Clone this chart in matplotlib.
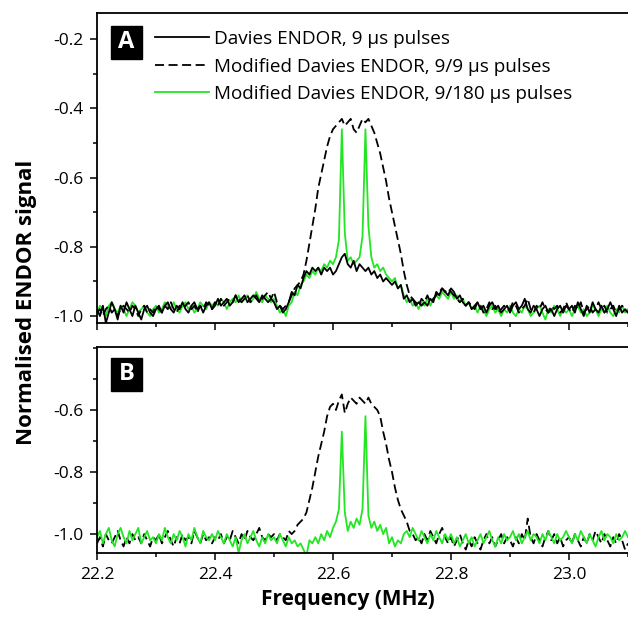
import numpy as np
import matplotlib
matplotlib.use('Agg')
import matplotlib.pyplot as plt
from matplotlib.patches import Rectangle
from matplotlib.ticker import MultipleLocator, FormatStrFormatter

plt.rcParams['font.family'] = ['Open Sans', 'DejaVu Sans']
plt.rcParams['axes.unicode_minus'] = False

# frequency axis (MHz), one point every 5 kHz
freq = np.round(22.2 + 0.005 * np.arange(181), 3)

# panel A: Davies ENDOR, 9 us pulses
davies_A = [
    -0.98, -1.00, -0.97, -1.02, -0.99, -0.96, -0.98, -1.01, -0.97, -0.99, -0.96, -0.98, -1.00, -0.97, -0.99, -1.01, -0.98, -0.97, -0.99, -1.00,
    -0.98, -0.97, -0.99, -0.97, -0.96, -0.98, -0.99, -0.97, -0.98, -0.96, -0.98, -0.99, -0.97, -0.96, -0.98, -0.97, -0.99, -0.97, -0.96, -0.98,
    -0.97, -0.95, -0.97, -0.96, -0.95, -0.97, -0.96, -0.94, -0.96, -0.95, -0.94, -0.96, -0.95, -0.94, -0.95, -0.96, -0.94, -0.95, -0.96, -0.95,
    -0.96, -0.98, -0.97, -0.99, -0.98, -0.96, -0.93, -0.94, -0.91, -0.92, -0.89, -0.87, -0.88, -0.86, -0.87, -0.86, -0.88, -0.86, -0.87, -0.86,
    -0.88, -0.87, -0.85, -0.83, -0.82, -0.85, -0.86, -0.84, -0.87, -0.85, -0.86, -0.87, -0.86, -0.88, -0.87, -0.89, -0.88, -0.90, -0.89, -0.90,
    -0.91, -0.90, -0.92, -0.91, -0.95, -0.94, -0.96, -0.95, -0.97, -0.96, -0.97, -0.96, -0.97, -0.95, -0.96, -0.93, -0.94, -0.92, -0.93, -0.94,
    -0.92, -0.93, -0.95, -0.94, -0.96, -0.97, -0.96, -0.98, -0.97, -0.96, -0.98, -0.97, -0.99, -0.97, -0.96, -0.98, -0.97, -0.99, -0.98, -0.97,
    -0.99, -0.97, -0.96, -0.98, -0.97, -0.95, -0.98, -0.99, -0.97, -0.98, -1.00, -0.98, -0.97, -0.99, -0.98, -1.00, -0.98, -0.97, -0.99, -0.97,
    -0.98, -0.97, -0.99, -0.96, -0.98, -1.00, -0.97, -0.99, -0.96, -0.98, -0.99, -0.97, -0.99, -0.98, -0.96, -0.98, -1.00, -0.97, -0.99, -0.98,
    -0.99]

# panel A: modified Davies ENDOR, 9/9 us pulses
mod99_A = [
    -0.99, -0.98, -1.00, -0.98, -0.97, -0.99, -0.98, -1.00, -0.98, -0.97, -0.98, -0.99, -0.97, -0.98, -1.00, -0.98, -0.97, -0.99, -0.98, -0.99,
    -0.97, -0.98, -0.99, -0.97, -0.98, -0.96, -0.98, -0.99, -0.97, -0.98, -0.97, -0.96, -0.98, -0.97, -0.99, -0.97, -0.98, -0.96, -0.97, -0.98,
    -0.96, -0.97, -0.95, -0.97, -0.96, -0.95, -0.96, -0.94, -0.95, -0.96, -0.95, -0.94, -0.96, -0.95, -0.94, -0.96, -0.95, -0.94, -0.93, -0.95,
    -0.93, -0.96, -0.97, -0.98, -0.97, -0.96, -0.94, -0.92, -0.91, -0.90, -0.88, -0.84, -0.79, -0.74, -0.69, -0.63, -0.59, -0.55, -0.51, -0.48,
    -0.46, -0.45, -0.44, -0.43, -0.45, -0.44, -0.43, -0.46, -0.47, -0.45, -0.43, -0.44, -0.43, -0.45, -0.47, -0.50, -0.53, -0.57, -0.61, -0.66,
    -0.70, -0.74, -0.78, -0.82, -0.87, -0.91, -0.94, -0.95, -0.96, -0.97, -0.95, -0.96, -0.94, -0.96, -0.95, -0.94, -0.93, -0.92, -0.93, -0.92,
    -0.93, -0.94, -0.95, -0.96, -0.95, -0.97, -0.96, -0.97, -0.98, -0.96, -0.97, -0.99, -0.98, -0.96, -0.98, -0.97, -0.99, -0.98, -0.97, -0.98,
    -0.98, -0.96, -0.97, -0.99, -0.98, -0.97, -0.95, -0.98, -0.99, -0.97, -0.98, -0.96, -0.98, -0.99, -0.97, -0.98, -0.97, -0.99, -0.98, -0.96,
    -0.98, -0.99, -0.97, -0.98, -0.96, -0.99, -0.98, -0.97, -0.99, -0.98, -0.96, -0.98, -0.97, -0.99, -0.98, -0.97, -0.99, -0.98, -0.97, -0.98,
    -0.99]

# panel A: modified Davies ENDOR, 9/180 us pulses
mod180_A = [
    -0.99, -0.97, -0.98, -1.00, -0.97, -0.96, -0.98, -0.99, -0.97, -0.98, -1.00, -0.98, -0.96, -0.97, -0.99, -0.98, -0.97, -0.99, -1.00, -0.98,
    -0.97, -0.99, -0.98, -0.96, -0.97, -0.98, -0.96, -0.98, -0.99, -0.97, -0.96, -0.98, -0.97, -0.99, -0.98, -0.96, -0.97, -0.98, -0.96, -0.97,
    -0.96, -0.97, -0.95, -0.96, -0.98, -0.96, -0.95, -0.96, -0.94, -0.96, -0.95, -0.94, -0.96, -0.95, -0.93, -0.95, -0.96, -0.94, -0.95, -0.96,
    -0.95, -0.97, -0.99, -0.98, -1.00, -0.97, -0.96, -0.93, -0.94, -0.91, -0.90, -0.88, -0.89, -0.87, -0.88, -0.86, -0.87, -0.85, -0.86, -0.84,
    -0.85, -0.83, -0.78, -0.46, -0.76, -0.84, -0.83, -0.85, -0.84, -0.83, -0.77, -0.46, -0.74, -0.83, -0.86, -0.85, -0.87, -0.86, -0.88, -0.89,
    -0.90, -0.89, -0.92, -0.91, -0.94, -0.96, -0.95, -0.97, -0.96, -0.98, -0.96, -0.97, -0.95, -0.97, -0.95, -0.94, -0.95, -0.93, -0.94, -0.95,
    -0.93, -0.95, -0.94, -0.96, -0.95, -0.97, -0.96, -0.98, -0.97, -0.99, -0.97, -0.98, -1.00, -0.98, -0.97, -0.99, -0.98, -1.00, -0.98, -0.99,
    -0.97, -0.99, -1.00, -0.98, -0.99, -0.97, -0.98, -1.00, -0.99, -0.98, -0.97, -0.99, -1.01, -0.98, -0.99, -0.97, -0.98, -1.00, -0.98, -0.99,
    -0.98, -1.00, -0.98, -0.97, -0.99, -0.98, -1.00, -0.99, -0.97, -0.98, -1.00, -0.98, -0.99, -0.97, -0.99, -1.00, -0.98, -0.99, -0.97, -0.99,
    -0.98]

# panel B: modified Davies ENDOR, 9/9 us pulses
mod99_B = [
    -1.03, -1.01, -1.04, -1.00, -1.02, -1.03, -1.01, -0.99, -1.02, -1.04, -1.01, -1.03, -1.00, -1.02, -1.01, -1.03, -1.00, -1.02, -1.04, -1.01,
    -1.02, -1.00, -1.03, -1.01, -0.99, -1.02, -1.04, -1.01, -1.03, -1.00, -1.02, -1.01, -1.03, -0.99, -1.01, -1.03, -1.00, -1.02, -1.01, -1.03,
    -1.01, -1.02, -1.00, -1.03, -1.01, -1.02, -0.99, -1.01, -1.03, -1.00, -1.02, -0.99, -1.01, -1.02, -1.00, -0.98, -1.01, -1.02, -1.00, -1.01,
    -1.00, -1.02, -1.00, -1.01, -1.02, -0.99, -1.00, -0.99, -0.97, -0.96, -0.95, -0.93, -0.89, -0.85, -0.80, -0.75, -0.71, -0.67, -0.62, -0.59,
    -0.58, -0.60, -0.57, -0.55, -0.61, -0.58, -0.56, -0.57, -0.58, -0.56, -0.57, -0.58, -0.56, -0.58, -0.59, -0.60, -0.62, -0.67, -0.71, -0.76,
    -0.80, -0.85, -0.89, -0.92, -0.94, -0.96, -0.99, -1.00, -1.02, -1.01, -1.03, -1.00, -1.02, -0.99, -1.01, -1.03, -1.00, -0.98, -1.01, -1.03,
    -1.01, -1.04, -1.02, -1.00, -1.03, -1.05, -1.02, -1.04, -1.01, -1.03, -1.05, -1.02, -1.00, -1.03, -1.01, -1.04, -1.02, -1.00, -1.03, -1.01,
    -1.02, -1.04, -1.01, -1.03, -1.00, -1.02, -0.95, -1.01, -1.03, -1.00, -1.02, -1.04, -1.01, -0.99, -1.02, -1.00, -1.03, -1.01, -1.04, -1.02,
    -1.01, -1.03, -1.00, -1.02, -1.04, -1.01, -1.03, -1.00, -1.02, -0.99, -1.01, -1.03, -1.00, -1.02, -1.04, -1.01, -1.03, -1.00, -1.02, -1.05,
    -1.03]

# panel B: modified Davies ENDOR, 9/180 us pulses
mod180_B = [
    -1.01, -0.99, -1.03, -1.00, -0.98, -1.02, -1.04, -1.00, -0.98, -1.01, -1.03, -0.99, -1.02, -1.00, -0.98, -1.03, -1.01, -0.99, -1.02, -1.01,
    -1.03, -1.00, -1.02, -0.98, -1.01, -1.03, -1.00, -1.02, -0.99, -1.01, -1.04, -1.00, -1.02, -0.98, -1.01, -1.03, -0.99, -1.01, -1.02, -1.00,
    -1.02, -0.99, -1.01, -1.03, -1.00, -1.02, -1.04, -1.01, -1.06, -1.02, -1.00, -1.03, -1.01, -0.99, -1.02, -1.04, -1.01, -1.03, -1.00, -1.02,
    -1.01, -1.03, -1.00, -1.02, -1.04, -1.01, -1.03, -1.02, -1.04, -1.03, -1.05, -1.07, -1.02, -1.03, -1.01, -1.03, -1.00, -1.02, -0.99, -1.01,
    -0.98, -0.96, -0.92, -0.67, -0.93, -0.99, -0.96, -0.98, -0.95, -0.97, -0.92, -0.62, -0.94, -0.98, -0.96, -0.99, -0.97, -1.00, -0.98, -1.03,
    -1.01, -1.04, -1.02, -1.03, -1.00, -0.99, -1.01, -0.98, -1.00, -1.02, -0.99, -1.01, -1.03, -1.00, -1.02, -0.99, -1.01, -1.03, -1.00, -1.02,
    -1.00, -1.03, -1.01, -1.04, -1.02, -1.00, -1.03, -1.01, -1.04, -1.02, -1.00, -1.03, -1.01, -0.99, -1.02, -1.04, -1.01, -1.03, -1.00, -1.02,
    -1.01, -0.99, -1.02, -1.00, -1.03, -1.01, -0.99, -1.02, -1.00, -1.01, -1.03, -1.00, -1.02, -0.99, -1.01, -1.03, -1.00, -1.02, -1.01, -0.99,
    -1.01, -1.03, -1.00, -1.02, -0.99, -1.01, -1.03, -1.00, -1.02, -1.04, -1.01, -0.99, -1.02, -1.00, -1.01, -1.03, -1.00, -1.02, -1.01, -0.99,
    -1.01]

labels = ['Davies ENDOR, 9 µs pulses',
          'Modified Davies ENDOR, 9/9 µs pulses',
          'Modified Davies ENDOR, 9/180 µs pulses']
green = '#22e622'
W, H = 628, 625

fig = plt.figure(figsize=(W / 100, H / 100), dpi=100)
axA = fig.add_axes([97 / W, 1 - 323 / H, 531 / W, 310 / H])
axB = fig.add_axes([97 / W, 1 - 553 / H, 531 / W, 206 / H])

dash = (0, (5, 2.5))
lw = 1.3
lg, = axA.plot(freq, mod180_A, color=green, lw=lw, label=labels[2])
ld, = axA.plot(freq, mod99_A, color='black', lw=lw, ls=dash, label=labels[1])
ls, = axA.plot(freq, davies_A, color='black', lw=lw, label=labels[0])

axB.plot(freq, mod99_B, color='black', lw=lw, ls=dash)
axB.plot(freq, mod180_B, color=green, lw=lw)

axA.set_ylim(-1.02, -0.124)
axB.set_ylim(-1.061, -0.397)
axA.yaxis.set_major_locator(MultipleLocator(0.2))
axB.set_yticks([-1.0, -0.8, -0.6])

for ax in (axA, axB):
    ax.set_xlim(22.2, 23.1)
    ax.xaxis.set_major_locator(MultipleLocator(0.2))
    ax.xaxis.set_minor_locator(MultipleLocator(0.1))
    ax.yaxis.set_minor_locator(MultipleLocator(0.1))
    ax.yaxis.set_major_formatter(FormatStrFormatter('%.1f'))
    ax.spines['right'].set_visible(False)
    for s in ('left', 'top', 'bottom'):
        ax.spines[s].set_linewidth(1.3)
    ax.tick_params(which='major', direction='out', length=5, width=1.1, labelsize=12.5, pad=5)
    ax.tick_params(which='minor', direction='out', length=3, width=1.1)
axA.tick_params(axis='x', labelbottom=False)
axB.xaxis.set_major_formatter(FormatStrFormatter('%.1f'))

axA.legend(handles=[ls, ld, lg], loc='upper left', bbox_to_anchor=(147 / W, 1 - 22.5 / H),
           bbox_transform=fig.transFigure, frameon=False, fontsize=13.6,
           handlelength=2.9, handletextpad=0.25, labelspacing=0.5, borderaxespad=0)

# panel letters
for letter, top in (('A', 26), ('B', 358)):
    fig.add_artist(Rectangle((111 / W, 1 - (top + 33) / H), 31 / W, 33 / H,
                             transform=fig.transFigure, color='black'))
    fig.text(126.5 / W, 1 - (top + 16.5) / H, letter, color='white', fontsize=17,
             fontweight='bold', ha='center', va='center')

fig.text(27 / W, 1 - 302 / H, 'Normalised ENDOR signal', rotation=90,
         ha='center', va='center', fontsize=16, fontweight='bold')
fig.text(348 / W, 1 - 600 / H, 'Frequency (MHz)', ha='center', va='center',
         fontsize=15, fontweight='bold')

fig.savefig('out.png', dpi=100)
